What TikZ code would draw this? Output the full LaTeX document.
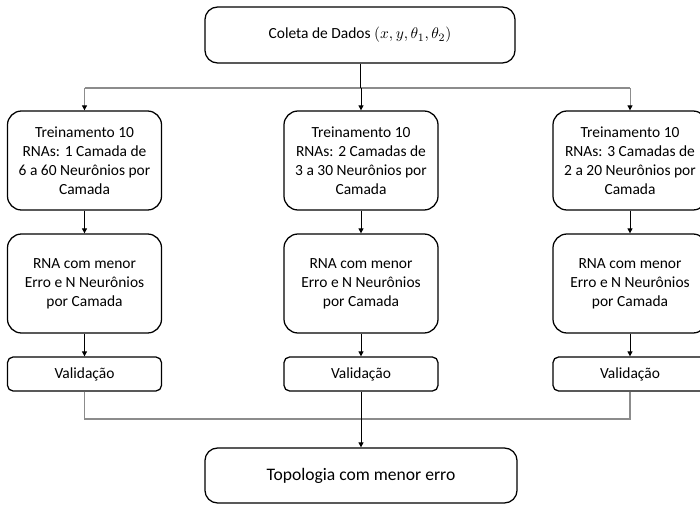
\documentclass[tikz,border=0pt]{standalone}
\usepackage{fontspec}
\setmainfont{Carlito}
\usetikzlibrary{calc}
\usetikzlibrary{arrows.meta}
\definecolor{busgray}{gray}{0.55}
\tikzstyle{stagebox}=[draw,line width=0.9pt,rounded corners=10pt,align=center,minimum width=3.85cm,minimum height=2.475cm,font=\fontsize{11}{13.5}\selectfont]
\tikzstyle{validbox}=[draw,line width=0.9pt,rounded corners=4pt,align=center,minimum width=3.85cm,minimum height=0.85cm,font=\fontsize{11}{13.5}\selectfont]
\tikzstyle{endbox}=[draw,line width=0.9pt,rounded corners=9pt,align=center]
\tikzstyle{feed}=[-{Triangle[length=3.5pt,width=3.5pt]},line width=0.6pt]
\tikzstyle{busline}=[busgray,line width=0.9pt]

\begin{document}
\begin{tikzpicture}[x=0.025cm,y=-0.025cm]
  \useasboundingbox (0,0) rectangle (700,506);
  \node[endbox,minimum width=7.75cm,minimum height=1.4cm,font=\fontsize{11}{13.5}\selectfont] (coleta) at (360,35) {Coleta de Dados $(x,y,\theta_1,\theta_2)$};
  \coordinate (busA) at (84.5,88);
  \coordinate (busC) at (630,88);
  \coordinate (sumA) at (84.5,419);
  \coordinate (sumC) at (630,419);
  % three columns of the training
  \foreach \c/\cx/\cam/\faixa in {a/84.5/1 Camada de/6 a 60,b/361/2 Camadas de/3 a 30,c/630/3 Camadas de/2 a 20} {
    \node[stagebox] (treino\c) at (\cx,160.5) {Treinamento 10\\RNAs: \cam\\\faixa{} Neurônios por\\Camada};
    \node[stagebox] (rna\c) at (\cx,283.5) {RNA com menor\\Erro e N Neurônios\\por Camada};
    \node[validbox] (valida\c) at (\cx,374) {Validação};
    \draw[feed] (treino\c) -- (rna\c);
    \draw[feed] (rna\c) -- (valida\c);
  }
  \node[endbox,minimum width=7.8cm,minimum height=1.375cm,font=\fontsize{12.5}{15}\selectfont] (topologia) at (361,475.5) {Topologia com menor erro};
  % buses
  \draw[busline] (busA) -- (busC);
  \draw[line width=0.6pt] (coleta.south) -- (coleta.south |- busA);
  \draw[feed,busgray,-{Triangle[length=3.5pt,width=3.5pt,black]}] (busA) -- (treinoa.north);
  \draw[feed] (treinob.north |- busA) -- (treinob.north);
  \draw[feed,busgray,-{Triangle[length=3.5pt,width=3.5pt,black]}] (busC) -- (treinoc.north);
  \draw[busline] (validaa.south) -- (sumA) -- (sumC) -- (validac.south);
  \draw[feed] (validab.south) -- (topologia.north);
\end{tikzpicture}
\end{document}
